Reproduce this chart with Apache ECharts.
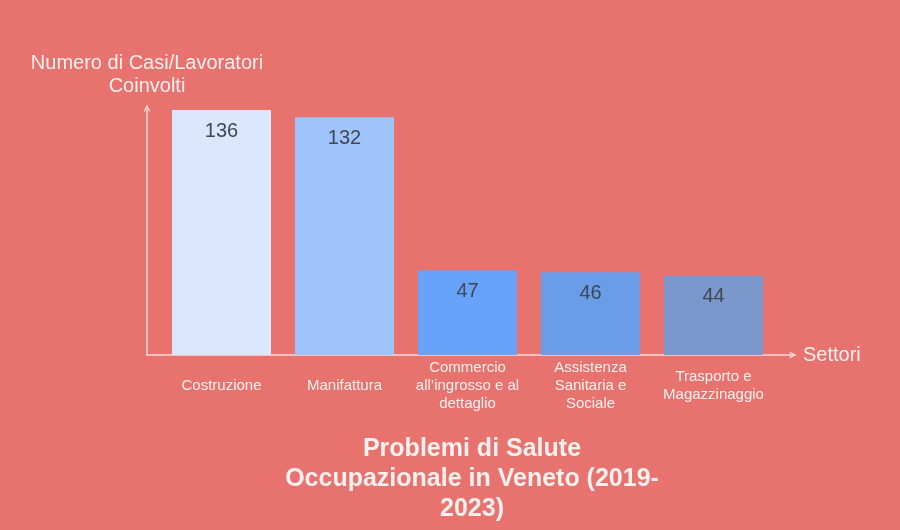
<!DOCTYPE html>
<html>
<head>
<meta charset="utf-8">
<script src="https://cdn.jsdelivr.net/npm/echarts@6/dist/echarts.min.js"></script>
<style>html,body{margin:0;padding:0;background:#e8726e;}#c{width:900px;height:530px;}</style>
</head>
<body>
<div id="c"></div>
<script>
const categories = ['Costruzione', 'Manifattura', 'Commercio\nall\u2019ingrosso e al\ndettaglio', 'Assistenza\nSanitaria e\nSociale', 'Trasporto e\nMagazzinaggio'];
const values = [136, 132, 47, 46, 44];
const barColors = ['#dbe7fd', '#9fc3fb', '#67a3fb', '#6a9de8', '#7a98cb'];
const titleText = 'Problemi di Salute\nOccupazionale in Veneto (2019-\n2023)';
const yName = 'Numero di Casi/Lavoratori\nCoinvolti';
const xName = 'Settori';

const font = '"Liberation Sans", Arial, sans-serif';
const axisCol = '#f7dedb';
const arrow = 'path://M0,10 L5,0 L10,10 L8,10 L5,3.6 L2,10 Z';
const chart = echarts.init(document.getElementById('c'));
chart.setOption({
  backgroundColor: '#e8726e',
  textStyle: { fontFamily: font },
  title: {
    text: titleText, left: 467, top: 429, textAlign: 'center',
    textStyle: { color: '#fdf1ef', fontSize: 25, fontWeight: 'bold', lineHeight: 30, fontFamily: font }
  },
  grid: [
    { left: 147, right: 107, top: 108, bottom: 175 },
    { left: 160, right: 125, top: 110, bottom: 175 }
  ],
  xAxis: [
    { gridIndex: 0, type: 'value', min: 0, max: 1, splitLine: { show: false }, axisTick: { show: false }, axisLabel: { show: false },
      axisLine: { show: true, symbol: ['none', arrow], symbolSize: [11, 7], lineStyle: { color: axisCol, width: 1.5 } },
      name: xName, nameLocation: 'end', nameGap: 10,
      nameTextStyle: { color: '#fdf1ef', fontSize: 20, fontFamily: font, verticalAlign: 'middle' } },
    { gridIndex: 1, type: 'category', data: categories, axisLine: { show: false }, axisTick: { show: false },
      axisLabel: { color: '#fdf1ef', fontSize: 15, lineHeight: 18, verticalAlign: 'middle', margin: 31, interval: 0, fontFamily: font } }
  ],
  yAxis: [
    { gridIndex: 0, type: 'value', min: 0, max: 1, splitLine: { show: false }, axisTick: { show: false }, axisLabel: { show: false },
      axisLine: { show: true, symbol: ['none', arrow], symbolSize: [11, 7], lineStyle: { color: axisCol, width: 1.5 } },
      name: yName, nameLocation: 'end', nameGap: 10,
      nameTextStyle: { color: '#fdf1ef', fontSize: 20, lineHeight: 23, align: 'center', fontFamily: font } },
    { gridIndex: 1, type: 'value', min: 0, max: 'dataMax', show: false }
  ],
  series: [{
    type: 'bar', xAxisIndex: 1, yAxisIndex: 1, barWidth: 99,
    data: values.map((v, i) => ({ value: v, itemStyle: { color: barColors[i] } })),
    label: { show: true, position: 'insideTop', distance: 11, color: '#3f4753', fontSize: 20, fontFamily: font }
  }]
});
</script>
</body>
</html>
